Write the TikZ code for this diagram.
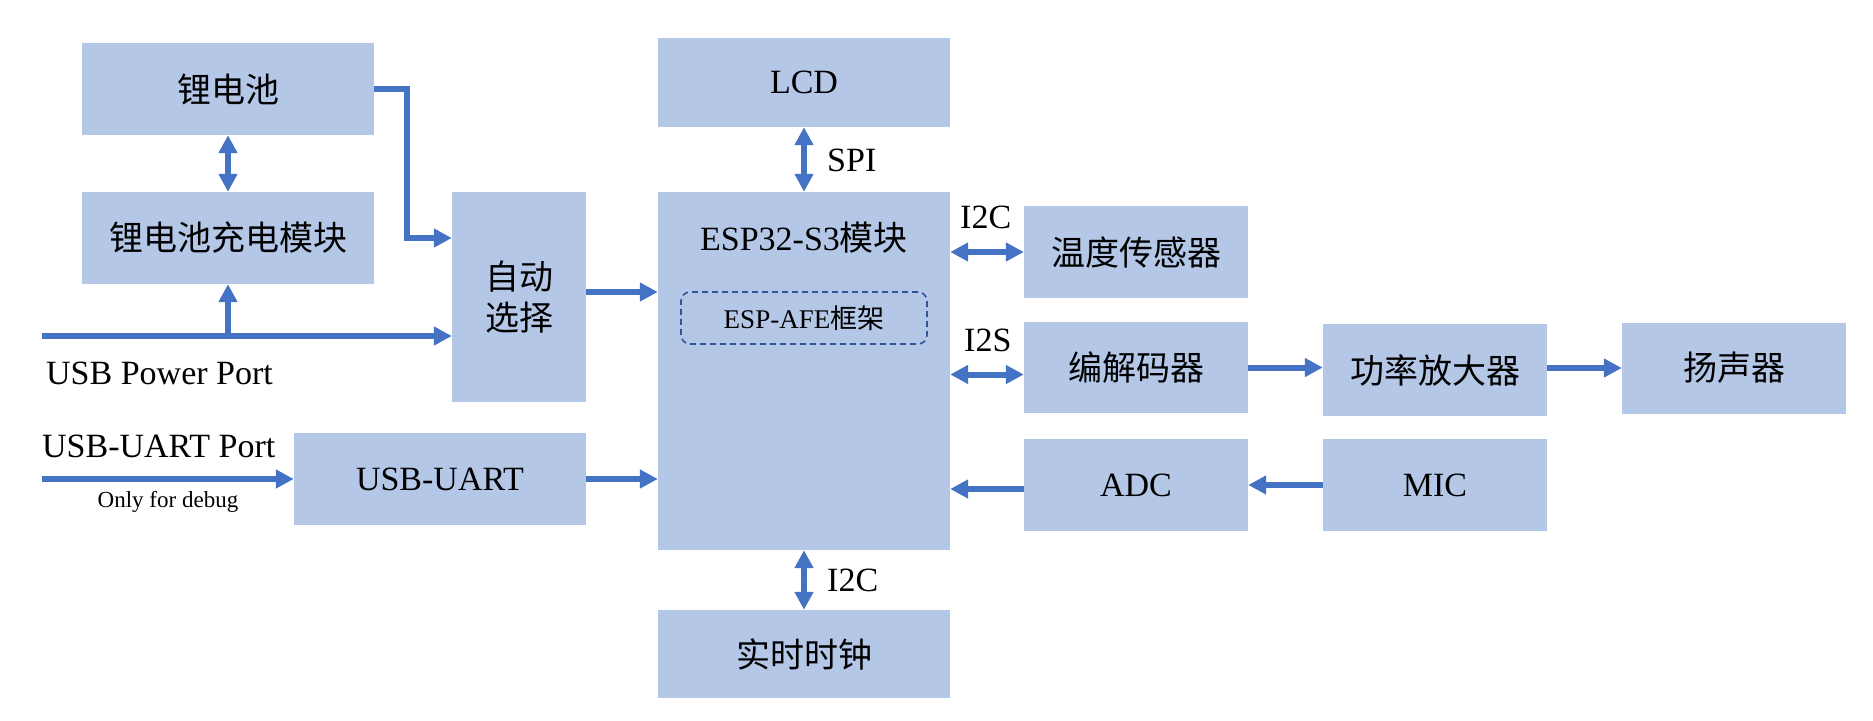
\documentclass[tikz,border=0pt]{standalone}
\usepackage{fontspec}
\setmainfont{Liberation Serif}
\newfontfamily\cjk{Noto Sans CJK SC}
\usetikzlibrary{arrows.meta,calc}
\definecolor{boxblue}{HTML}{B4C7E7}
\definecolor{arrowblue}{HTML}{4472C4}
\definecolor{dashblue}{HTML}{2F5597}
\begin{document}
\begin{tikzpicture}[x=1pt,y=-1pt,
  blk/.style={fill=boxblue,draw=none,inner sep=0pt,align=center,font=\fontsize{34}{41}\selectfont},
  lbl/.style={inner sep=0pt,font=\fontsize{34}{41}\selectfont},
  arr/.style={line width=6pt,draw=arrowblue,-{Triangle[length=18pt,width=18pt]}},
  darr/.style={line width=6pt,draw=arrowblue,{Triangle[length=18pt,width=18pt]}-{Triangle[length=18pt,width=18pt]}}]
\useasboundingbox (0,0) rectangle (1873,720);
% boxes
\node[blk,minimum width=292pt,minimum height=92pt] (bat) at (228,89) {\cjk 锂电池};
\node[blk,minimum width=292pt,minimum height=92pt] (chg) at (228,238) {\cjk 锂电池充电模块};
\node[blk,minimum width=134pt,minimum height=210pt] (sel) at (519,297) {\cjk 自动\\\cjk 选择};
\node[blk,minimum width=292pt,minimum height=92pt] (uart) at (440,479) {USB-UART};
\node[blk,minimum width=292pt,minimum height=89pt] (lcd) at (804,82.5) {LCD};
\node[blk,minimum width=292pt,minimum height=358pt] (esp) at (804,371) {};
\node[lbl] (esptitle) at (804,238) {ESP32-S3{\cjk 模块}};
\node[draw=dashblue,dashed,dash pattern=on 6pt off 4pt,line width=1.6pt,rounded corners=9pt,
      minimum width=246pt,minimum height=52pt,inner sep=0pt,font=\fontsize{27}{32}\selectfont] (afe) at (804,318) {ESP-AFE{\cjk 框架}};
\node[blk,minimum width=292pt,minimum height=88pt] (rtc) at (804,654) {\cjk 实时时钟};
\node[blk,minimum width=224pt,minimum height=92pt] (temp) at (1136,252) {\cjk 温度传感器};
\node[blk,minimum width=224pt,minimum height=91pt] (codec) at (1136,367.5) {\cjk 编解码器};
\node[blk,minimum width=224pt,minimum height=92pt] (amp) at (1435,370) {\cjk 功率放大器};
\node[blk,minimum width=224pt,minimum height=91pt] (spk) at (1734,368) {\cjk 扬声器};
\node[blk,minimum width=224pt,minimum height=92pt] (adc) at (1136,485) {ADC};
\node[blk,minimum width=224pt,minimum height=92pt] (mic) at (1435,485) {MIC};
% labels
\node[lbl,anchor=west] (spi) at (827,160) {SPI};
\node[lbl,anchor=west] (i2ca) at (960,217) {I2C};
\node[lbl,anchor=west] (i2s) at (964,340) {I2S};
\node[lbl,anchor=west] (i2cb) at (827,580) {I2C};
\node[lbl,anchor=west] (usbpl) at (46,373) {USB Power Port};
\node[lbl,anchor=west] (usbul) at (42,446) {USB-UART Port};
\node[inner sep=0pt,font=\fontsize{23}{27}\selectfont] (dbg) at (168,502) {Only for debug};
% free ends and offsets
\coordinate (usbp) at (42,336);
\coordinate (usbu) at (42,479);
\coordinate (selout) at ([yshift=5pt]sel.east);
\coordinate (codecin) at ([yshift=-7pt]codec.west);
\coordinate (adcout) at ([yshift=-4pt]adc.west);
% connectors
\draw[arr] (bat.east) -- ++(33,0) |- (sel.west |- chg.east);
\draw[darr] (bat.south) -- (chg.north);
\draw[arr] (usbp) -- (sel.west |- usbp);
\draw[arr] (chg.south |- usbp) -- (chg.south);
\draw[arr] (selout) -- (esp.west |- selout);
\draw[arr] (usbu) -- (uart.west);
\draw[arr] (uart.east) -- (esp.west |- uart.east);
\draw[darr] (lcd.south) -- (esp.north);
\draw[darr] (esp.south) -- (rtc.north);
\draw[darr] (esp.east |- temp.west) -- (temp.west);
\draw[darr] (esp.east |- codecin) -- (codecin);
\draw[arr] (codec.east) -- (amp.west |- codec.east);
\draw[arr] (amp.east |- spk.west) -- (spk.west);
\draw[arr] (mic.west) -- (adc.east);
\draw[arr] (adcout) -- (esp.east |- adcout);
\end{tikzpicture}
\end{document}
